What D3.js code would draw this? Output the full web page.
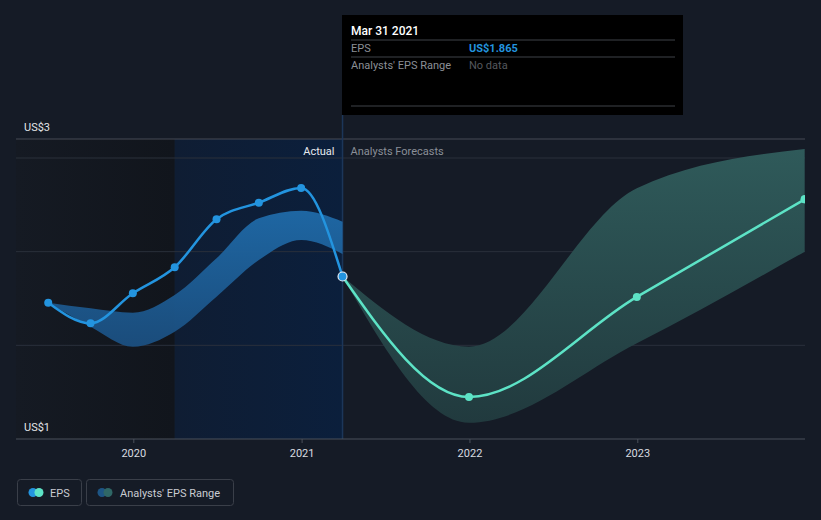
<!DOCTYPE html>
<html><head><meta charset="utf-8">
<script src="https://cdn.jsdelivr.net/npm/d3@7"></script>
<style>
html,body{margin:0;padding:0;background:#151b26;}
svg{display:block;font-family:Roboto,"Noto Sans",sans-serif;}
</style></head>
<body><svg id="c" width="821" height="520"></svg>
<script>
// ---- data ----
const epsDates = ["2019-06-30","2019-09-30","2019-12-31","2020-03-31","2020-06-30","2020-09-30","2020-12-31","2021-03-31"];
const epsValues = [1.687,1.547,1.751,1.928,2.254,2.367,2.467,1.865];
const pastRangeLow  = [1.687,1.524,1.388,1.490,1.728,1.977,2.113,2.018];
const pastRangeHigh = [1.687,1.649,1.619,1.739,1.989,2.261,2.312,2.238];
const fcDates = ["2021-03-31","2021-12-31","2022-12-31","2023-12-31"];
const fcValues = [1.865,1.046,1.726,2.390];
const fcLow  = [1.865,0.871,1.411,2.034];
const fcHigh = [1.865,1.388,2.465,2.732];
const xTicks = ["2020-01-01","2021-01-01","2022-01-01","2023-01-01"];
const xTickLabels = ["2020","2021","2022","2023"];
const yLabels = ["US$3","US$1"];
const tipDate = "Mar 31 2021", tipEps = "US$1.865";

const P = d3.timeParse("%Y-%m-%d");
const svg = d3.select("#c");
const L = 16, R = 805, T = 139, B = 439;
const x = d3.scaleTime().domain([P("2020-01-01"), P("2023-01-01")]).range([133.3, 637.3]);
const y = d3.scaleLinear().domain([0.76, 2.8]).range([B, T]);
const nowX = x(P("2021-03-31"));
const yrAgoX = x(P("2020-03-31"));

const defs = svg.append("defs");
function lg(id, stops, horiz){
  const g = defs.append("linearGradient").attr("id", id)
    .attr("x1",0).attr("y1",0).attr("x2",horiz?1:0).attr("y2",horiz?0:1);
  stops.forEach(s=>g.append("stop").attr("offset",s[0]).attr("stop-color",s[1]).attr("stop-opacity",s[2]==null?1:s[2]));
}
lg("pastBg", [[0,"#151a23"],[1,"#11151c"]], true);
lg("hiBg", [[0,"#0f1d33"],[1,"#0b1f3c"]], true);
lg("blueBand", [[0,"#1f6aa8"],[1,"#1b4f80"]]);
lg("fcBand", [[0,"#2f5a5a"],[1,"#213a3e"]]);

// background regions
svg.append("rect").attr("x",L).attr("y",T).attr("width",yrAgoX-L).attr("height",B-T).attr("fill","url(#pastBg)");
svg.append("rect").attr("x",yrAgoX).attr("y",T).attr("width",nowX-yrAgoX).attr("height",B-T).attr("fill","url(#hiBg)");

// gridlines
const step = (B - 158) / 3;
[1,2,3].forEach(i=>{
  svg.append("line").attr("x1",L).attr("x2",R).attr("y1",B-step*i).attr("y2",B-step*i)
    .attr("stroke","#2a303b").attr("stroke-width",1);
});
svg.append("line").attr("x1",L).attr("x2",R).attr("y1",T).attr("y2",T).attr("stroke","#464b55");

// vertical "now" line
svg.append("line").attr("x1",nowX).attr("x2",nowX).attr("y1",115).attr("y2",B).attr("stroke","#1c3659").attr("stroke-width",1.5);

// bands
const pastBand = epsDates.map((d,i)=>({d:P(d),lo:pastRangeLow[i],hi:pastRangeHigh[i]}));
const fcBandD = fcDates.map((d,i)=>({d:P(d),lo:fcLow[i],hi:fcHigh[i]}));
const area = d3.area().x(d=>x(d.d)).y0(d=>y(d.lo)).y1(d=>y(d.hi)).curve(d3.curveMonotoneX);
svg.append("path").attr("d",area(pastBand)).attr("fill","url(#blueBand)").attr("opacity",0.95);
svg.append("path").attr("d",area(fcBandD)).attr("fill","url(#fcBand)");

// lines
const eps = epsDates.map((d,i)=>({d:P(d),v:epsValues[i]}));
const fc = fcDates.map((d,i)=>({d:P(d),v:fcValues[i]}));
const line = d3.line().x(d=>x(d.d)).y(d=>y(d.v)).curve(d3.curveMonotoneX);
svg.append("path").attr("d",line(fc)).attr("fill","none").attr("stroke","#5de3c6").attr("stroke-width",2.5);
svg.append("path").attr("d",line(eps)).attr("fill","none").attr("stroke","#2394df").attr("stroke-width",2.5);

// dots
svg.selectAll(".fd").data(fc.slice(1)).enter().append("circle")
  .attr("cx",d=>x(d.d)).attr("cy",d=>y(d.v)).attr("r",4).attr("fill","#5de3c6");
svg.selectAll(".ed").data(eps.slice(0,-1)).enter().append("circle")
  .attr("cx",d=>x(d.d)).attr("cy",d=>y(d.v)).attr("r",4).attr("fill","#2394df");
const last = eps[eps.length-1];
svg.append("circle").attr("cx",x(last.d)).attr("cy",y(last.v)).attr("r",4.5)
  .attr("fill","#2394df").attr("stroke","#e8eef5").attr("stroke-width",1.2);

// mask right edge overflow
svg.append("rect").attr("x",R).attr("y",0).attr("width",821-R).attr("height",470).attr("fill","#151b26");
svg.append("circle").attr("cx",x(fc[3].d)).attr("cy",y(fc[3].v)).attr("r",4).attr("fill","#5de3c6")
  .attr("clip-path","url(#clipR)");
defs.append("clipPath").attr("id","clipR").append("rect").attr("x",0).attr("y",0).attr("width",R).attr("height",520);

// baseline & x axis
svg.append("line").attr("x1",L).attr("x2",R).attr("y1",B).attr("y2",B).attr("stroke","#4a505a");
const xa = svg.append("g").attr("transform",`translate(0,${B})`)
  .call(d3.axisBottom(x).tickValues(xTicks.map(P)).tickFormat((d,i)=>xTickLabels[i]).tickSize(4).tickPadding(6));
xa.select(".domain").remove();
xa.selectAll("line").attr("stroke","#4a505a");
xa.selectAll("text").attr("fill","#d8dbe0").attr("font-size",11).attr("font-family","Roboto,sans-serif");

// y labels
svg.append("text").attr("x",24).attr("y",131).text(yLabels[0]).attr("fill","#e3e5e8").attr("font-size",11);
svg.append("text").attr("x",24).attr("y",431).text(yLabels[1]).attr("fill","#e3e5e8").attr("font-size",11);

// actual / forecast labels
svg.append("text").attr("x",nowX-8).attr("y",155).attr("text-anchor","end").text("Actual").attr("fill","#e8eaee").attr("font-size",11);
svg.append("text").attr("x",nowX+8).attr("y",155).text("Analysts Forecasts").attr("fill","#8a8f98").attr("font-size",11);

// tooltip
const tg = svg.append("g");
tg.append("rect").attr("x",342).attr("y",15).attr("width",341).attr("height",100).attr("fill","#000");
tg.append("text").attr("x",351).attr("y",35).text(tipDate).attr("fill","#fff").attr("font-size",12).attr("font-weight",500);
[40,57,106].forEach(yy=>tg.append("line").attr("x1",351).attr("x2",675).attr("y1",yy).attr("y2",yy).attr("stroke","#3f4248"));
tg.append("text").attr("x",351).attr("y",52).text("EPS").attr("fill","#8b8f96").attr("font-size",11);
tg.append("text").attr("x",469).attr("y",52).text(tipEps).attr("fill","#2394df").attr("font-size",11).attr("font-weight",700);
tg.append("text").attr("x",351).attr("y",69).text("Analysts' EPS Range").attr("fill","#8b8f96").attr("font-size",11);
tg.append("text").attr("x",469).attr("y",69).text("No data").attr("fill","#55585e").attr("font-size",11);

// legend
const lgd = svg.append("g");
lgd.append("rect").attr("x",17.5).attr("y",479.5).attr("width",64).attr("height",26).attr("rx",3).attr("fill","none").attr("stroke","#3a3f49");
lgd.append("circle").attr("cx",33).attr("cy",492.5).attr("r",4.5).attr("fill","#2394df");
lgd.append("circle").attr("cx",39).attr("cy",492.5).attr("r",4.5).attr("fill","#5de3c6");
lgd.append("text").attr("x",50).attr("y",496.5).text("EPS").attr("fill","#c9ccd2").attr("font-size",11);
lgd.append("rect").attr("x",86.5).attr("y",479.5).attr("width",147).attr("height",26).attr("rx",3).attr("fill","none").attr("stroke","#3a3f49");
lgd.append("circle").attr("cx",102).attr("cy",492.5).attr("r",4.5).attr("fill","#1d5585");
lgd.append("circle").attr("cx",108).attr("cy",492.5).attr("r",4.5).attr("fill","#2f6766");
lgd.append("text").attr("x",120).attr("y",496.5).text("Analysts' EPS Range").attr("fill","#c9ccd2").attr("font-size",11);
</script></body></html>
